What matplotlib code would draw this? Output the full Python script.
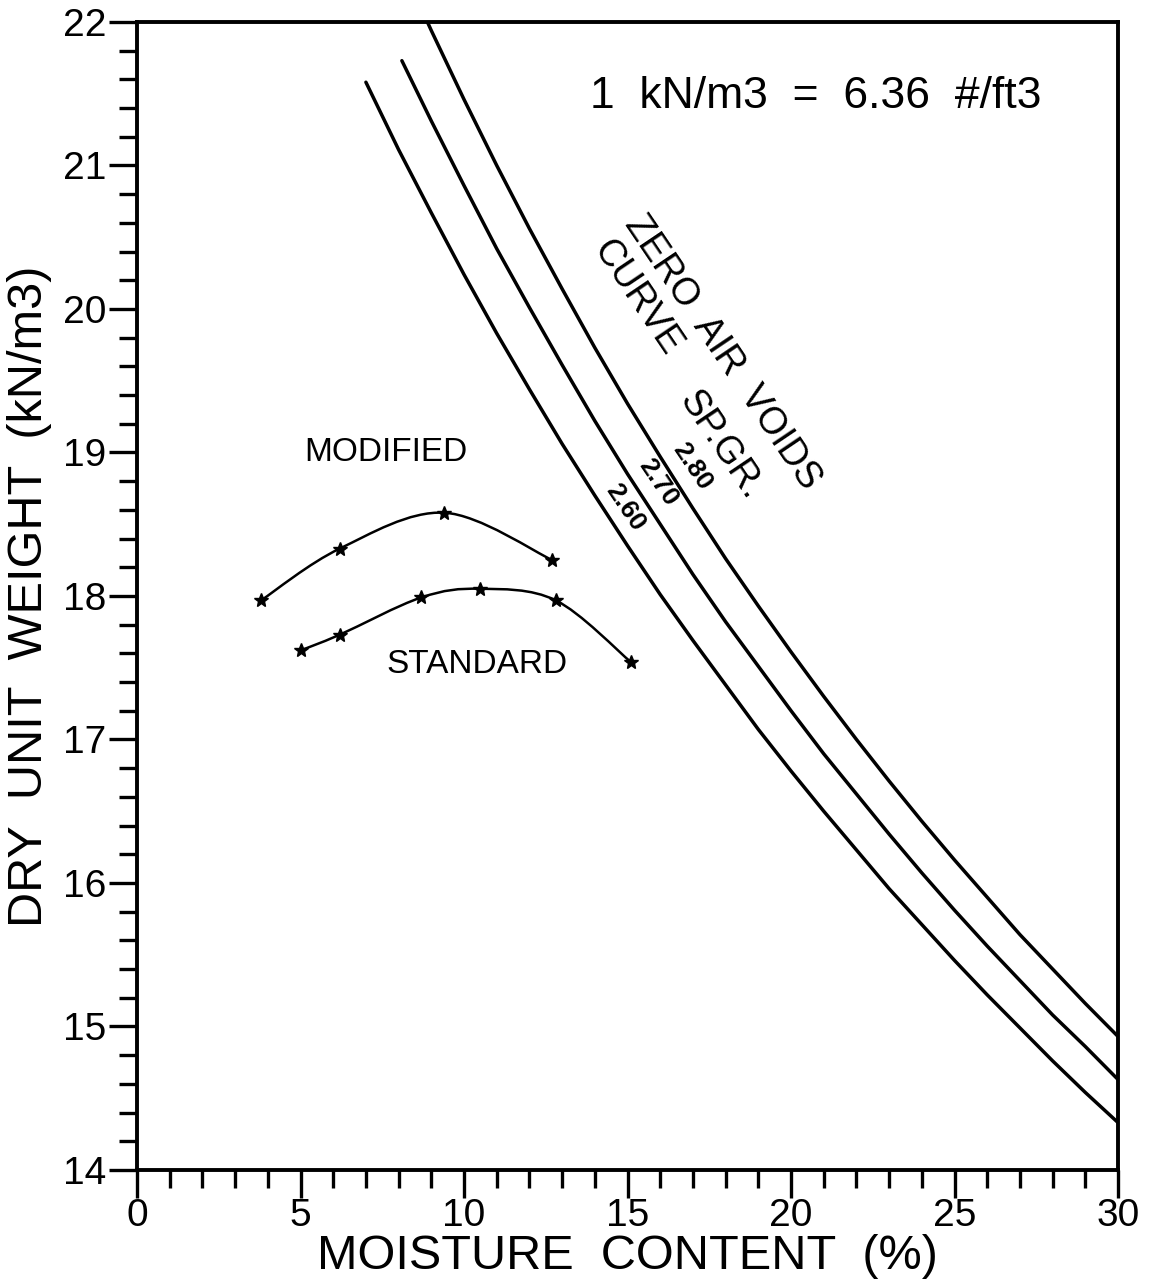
import matplotlib

matplotlib.use("Agg")

import matplotlib.pyplot as plt
import numpy as np
from matplotlib.patches import PathPatch
from matplotlib.path import Path
from matplotlib.ticker import MultipleLocator

plt.rcParams["font.family"] = ["Liberation Sans", "DejaVu Sans"]

# zero air voids curves (moisture %, dry unit weight kN/m3)
zav_moisture_260 = [7, 8, 9, 10, 11, 12, 13, 14, 15, 16, 17, 18, 19, 20, 21, 22, 23, 24, 25, 26, 27, 28, 29, 30]
zav_weight_260 = [21.58, 21.11, 20.67, 20.24, 19.83, 19.44, 19.06, 18.70, 18.35, 18.01, 17.69, 17.38,
                  17.07, 16.78, 16.50, 16.23, 15.96, 15.71, 15.46, 15.22, 14.99, 14.76, 14.54, 14.33]
zav_moisture_270 = [8.1, 9, 10, 11, 12, 13, 14, 15, 16, 17, 18, 19, 20, 21, 22, 23, 24, 25, 26, 27, 28, 29, 30]
zav_weight_270 = [21.73, 21.31, 20.86, 20.42, 20.01, 19.61, 19.22, 18.85, 18.50, 18.15, 17.82, 17.51,
                  17.20, 16.90, 16.62, 16.34, 16.07, 15.81, 15.56, 15.32, 15.08, 14.86, 14.63]
zav_moisture_280 = [8.8, 9, 10, 11, 12, 13, 14, 15, 16, 17, 18, 19, 20, 21, 22, 23, 24, 25, 26, 27, 28, 29, 30]
zav_weight_280 = [22.04, 21.94, 21.46, 21.00, 20.56, 20.14, 19.73, 19.34, 18.97, 18.61, 18.26, 17.93,
                  17.61, 17.30, 17.00, 16.71, 16.43, 16.16, 15.90, 15.64, 15.40, 15.16, 14.93]

# compaction test points
modified_moisture = [3.8, 6.2, 9.4, 12.7]
modified_weight = [17.97, 18.33, 18.58, 18.25]
standard_moisture = [5.0, 6.2, 8.7, 10.5, 12.8, 15.1]
standard_weight = [17.62, 17.73, 17.99, 18.05, 17.97, 17.54]

x_ticks = [0, 5, 10, 15, 20, 25, 30]
y_ticks = [14, 15, 16, 17, 18, 19, 20, 21, 22]


def smooth_path(xs, ys):
    # Catmull-Rom through the points, written as cubic Bezier segments
    pts = np.column_stack([xs, ys]).astype(float)
    n = len(pts)
    verts = [pts[0]]
    codes = [Path.MOVETO]
    for i in range(n - 1):
        p0 = pts[i - 1] if i > 0 else pts[i]
        p1 = pts[i]
        p2 = pts[i + 1]
        p3 = pts[i + 2] if i + 2 < n else pts[i + 1]
        verts += [p1 + (p2 - p0) / 6, p2 - (p3 - p1) / 6, p2]
        codes += [Path.CURVE4] * 3
    return Path(verts, codes)


fig = plt.figure(figsize=(11.58, 12.83), dpi=100)
ax = fig.add_axes([0.1183, 0.0881, 0.8472, 0.8948])

for xs, ys in [(zav_moisture_260, zav_weight_260), (zav_moisture_270, zav_weight_270),
               (zav_moisture_280, zav_weight_280)]:
    ax.plot(xs, ys, color="black", linewidth=2.5, solid_capstyle="round")

for xs, ys in [(modified_moisture, modified_weight), (standard_moisture, standard_weight)]:
    ax.add_patch(PathPatch(smooth_path(xs, ys), facecolor="none", edgecolor="black", linewidth=1.8))
    ax.plot(xs, ys, linestyle="none", marker="*", markersize=10, color="black")

ax.set_xlim(0, 30)
ax.set_ylim(14, 22)
ax.set_xticks(x_ticks)
ax.set_yticks(y_ticks)
ax.xaxis.set_minor_locator(MultipleLocator(1))
ax.yaxis.set_minor_locator(MultipleLocator(0.2))
ax.tick_params(which="major", direction="out", length=20, width=2.4, labelsize=28, pad=2)
ax.tick_params(which="minor", direction="out", length=13, width=2.4)
ax.tick_params(axis="x", pad=0)
for spine in ax.spines.values():
    spine.set_linewidth(2.8)

ax.set_xlabel("MOISTURE  CONTENT  (%)", fontsize=35, labelpad=0)
ax.set_ylabel("DRY  UNIT  WEIGHT  (kN/m3)", fontsize=35, labelpad=8)

ax.text(20.77, 21.48, "1  kN/m3  =  6.36  #/ft3", fontsize=32, ha="center", va="center")
ax.text(7.6, 19.0, "MODIFIED", fontsize=24, ha="center", va="center")
ax.text(10.4, 17.52, "STANDARD", fontsize=24, ha="center", va="center")

rot = -56
ax.text(17.90, 19.70, "ZERO  AIR  VOIDS", fontsize=27, rotation=rot, rotation_mode="anchor",
        ha="center", va="center")
ax.text(15.29, 20.08, "CURVE", fontsize=27, rotation=rot, rotation_mode="anchor",
        ha="center", va="center")
ax.text(17.85, 19.05, "SP.GR.", fontsize=27, rotation=rot, rotation_mode="anchor",
        ha="center", va="center")
ax.text(16.97, 18.90, "2.80", fontsize=19, fontweight="bold", rotation=rot, rotation_mode="anchor",
        ha="center", va="center")
ax.text(15.93, 18.79, "2.70", fontsize=19, fontweight="bold", rotation=rot, rotation_mode="anchor",
        ha="center", va="center")
ax.text(14.92, 18.62, "2.60", fontsize=19, fontweight="bold", rotation=rot, rotation_mode="anchor",
        ha="center", va="center")

fig.savefig("out.png", dpi=100)
